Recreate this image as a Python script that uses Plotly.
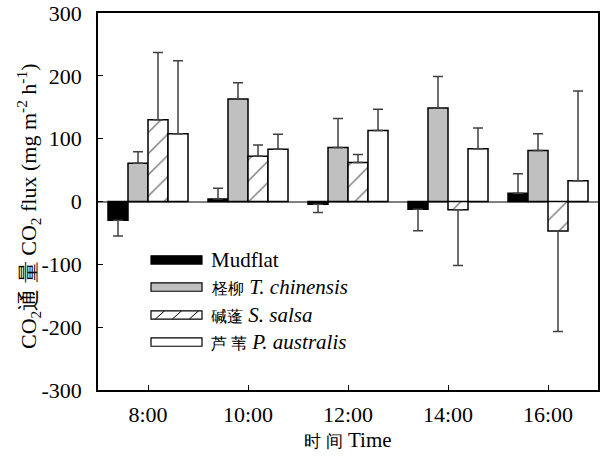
import plotly.graph_objects as go

times = ["8:00", "10:00", "12:00", "14:00", "16:00"]
CJK = '<span style="font-size:16px">{}</span>'
series_names = ["Mudflat",
                CJK.format("柽柳") + " <i>T. chinensis</i>",
                CJK.format("碱蓬") + " <i>S. salsa</i>",
                CJK.format("芦 苇") + " <i>P. australis</i>"]
mudflat = [-30, 4, -4.5, -12.5, 13]
mudflat_err = [25, 17, 13, 34, 31]
tchin = [61, 163, 86, 149, 81]
tchin_err = [18, 26, 46, 50, 27]
ssalsa = [130, 72, 62, -13, -47]
ssalsa_err = [107, 18, 13, 89, 160]
paus = [108, 83, 113, 84, 33]
paus_err = [116, 24, 34, 33, 143]
y_ticks = [-300, -200, -100, 0, 100, 200, 300]
y_ticktext = ["-300", "-200", "-100", "0", "100", "200", "300"]
x_title = '<span style="font-size:17px">时 间</span> Time'
y_title = "CO<sub>2</sub>通 量 CO<sub>2</sub> flux (mg m<sup>-2</sup> h<sup>-1</sup>)"

values = [mudflat, tchin, ssalsa, paus]
errors = [mudflat_err, tchin_err, ssalsa_err, paus_err]
fills = ["black", "#c0c0c0", "white", "white"]
patterns = ["", "", "/", ""]

FONT = "Times New Roman, Times, Liberation Serif, serif"

fig = go.Figure()
for name, v, e, c, p in zip(series_names, values, errors, fills, patterns):
    plus = [err if val >= 0 else 0 for val, err in zip(v, e)]
    minus = [0 if val >= 0 else err for val, err in zip(v, e)]
    marker = dict(color=c, line=dict(color="black", width=1.5))
    if p:
        marker["pattern"] = dict(shape=p, fgcolor="black", bgcolor="white", size=15, solidity=0.1)
    fig.add_trace(go.Bar(
        x=times, y=v, name=name, marker=marker, showlegend=False,
        error_y=dict(type="data", symmetric=False, array=plus, arrayminus=minus,
                     color="#404040", thickness=1.5, width=5),
    ))

# manual legend (wide swatches like the original)
x0, x1 = 0.106, 0.208
row_y = [0.345, 0.273, 0.199, 0.127]
h = 0.011
shapes = []
annotations = []
for i, (name, c) in enumerate(zip(series_names, fills)):
    yc = row_y[i]
    shapes.append(dict(type="rect", xref="paper", yref="paper", x0=x0, x1=x1,
                       y0=yc - h, y1=yc + h, fillcolor=c,
                       line=dict(color="black", width=1.2)))
    if patterns[i]:
        n = 3
        w = (x1 - x0) / n
        for k in range(n):
            xs = x0 + k * w + w * 0.25
            shapes.append(dict(type="line", xref="paper", yref="paper",
                               x0=xs, x1=xs + w * 0.55, y0=yc - h, y1=yc + h,
                               line=dict(color="black", width=1)))
    annotations.append(dict(xref="paper", yref="paper", x=x1 + 0.014, y=yc,
                            text=name, showarrow=False, xanchor="left", yanchor="middle",
                            font=dict(size=21, family=FONT, color="black")))

# y-axis title as a rotated annotation for precise placement
annotations.append(dict(xref="paper", yref="paper", x=-0.14, y=0.488, text=y_title,
                        textangle=-90, showarrow=False, xanchor="center", yanchor="middle",
                        font=dict(size=22, family=FONT, color="black")))

fig.update_layout(
    width=600, height=458,
    margin=dict(l=98, r=2, t=13, b=68),
    plot_bgcolor="white", paper_bgcolor="white",
    barmode="group", bargap=0.2, bargroupgap=0,
    font=dict(family=FONT, size=21, color="black"),
    shapes=shapes, annotations=annotations,
    xaxis=dict(
        showline=True, linecolor="black", linewidth=1.5, mirror=True,
        ticks="inside", ticklen=5, tickcolor="black", tickwidth=1,
        tickfont=dict(size=22, family=FONT), ticklabelstandoff=4,
        title=dict(text=x_title, font=dict(size=21, family=FONT), standoff=6),
        showgrid=False, automargin=False,
    ),
    yaxis=dict(
        range=[-300, 300], tickvals=y_ticks, ticktext=y_ticktext,
        showline=True, linecolor="black", linewidth=1.5, mirror=True,
        ticks="inside", ticklen=5, tickcolor="black", tickwidth=1,
        tickfont=dict(size=22, family=FONT), ticklabelstandoff=10,
        showgrid=False, automargin=False,
        zeroline=True, zerolinecolor="#808080", zerolinewidth=1.5,
    ),
)

fig.write_html("out.html", config={"displayModeBar": False},
               post_script="document.body.style.margin='0';document.body.style.overflow='hidden';")
